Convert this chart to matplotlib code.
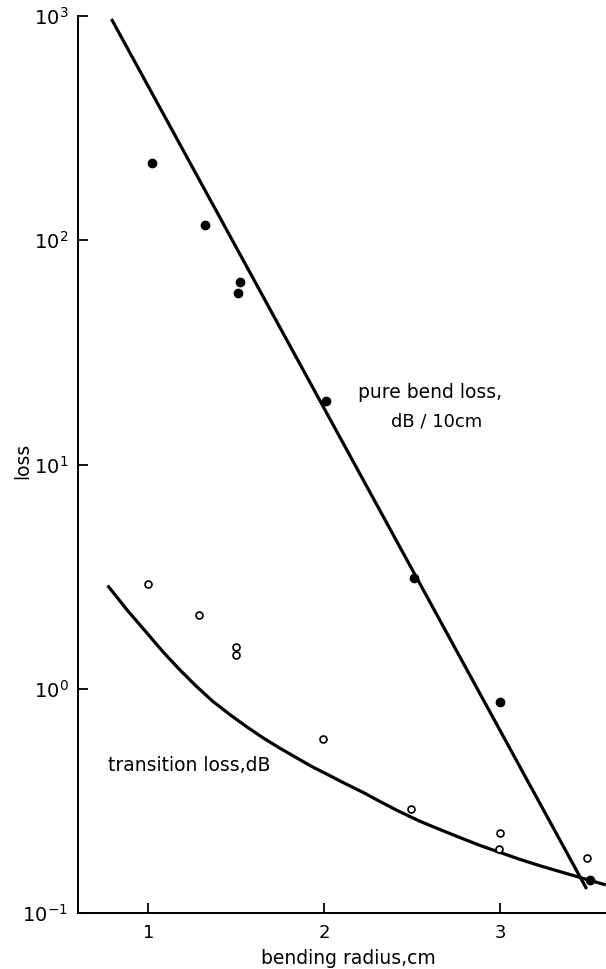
import matplotlib
matplotlib.use("Agg")
import matplotlib.pyplot as plt

bend_r = [1.02, 1.32, 1.52, 1.51, 2.01, 2.51, 3.0, 3.51]
bend_loss = [220, 117, 65, 58, 19.2, 3.12, 0.87, 0.14]

trans_r = [1.0, 1.29, 1.5, 1.5, 1.99, 2.49, 3.0, 2.99, 3.49]
trans_loss = [2.92, 2.13, 1.54, 1.41, 0.597, 0.291, 0.227, 0.193, 0.176]

# 손으로 그린 곡선 (그림에서 읽은 점)
bend_fit_r = [0.79, 3.49]
bend_fit_loss = [970, 0.128]

trans_fit_r = [0.774, 0.88, 0.987, 1.08, 1.176, 1.27, 1.365, 1.46, 1.555,
               1.65, 1.744, 1.84, 1.933, 2.03, 2.123, 2.22, 2.313, 2.42,
               2.54, 2.66, 2.77, 2.885, 3.0, 3.115, 3.23, 3.35, 3.466, 3.59]
trans_fit_loss = [2.85, 2.24, 1.79, 1.47, 1.22, 1.03, 0.88, 0.77, 0.68,
                  0.605, 0.545, 0.493, 0.448, 0.410, 0.376, 0.345, 0.315,
                  0.285, 0.257, 0.235, 0.217, 0.200, 0.186, 0.173, 0.162,
                  0.152, 0.143, 0.134]

x_ticks = [1, 2, 3]
y_ticks = [0.1, 1, 10, 100, 1000]
y_ticklabels = [r"$10^{-1}$", r"$10^{0}$", r"$10^{1}$", r"$10^{2}$", r"$10^{3}$"]

W, H = 606, 969
fig = plt.figure(figsize=(W / 100, H / 100), dpi=100)
ax = fig.add_axes([78 / W, 56 / H, (W - 78) / W, (913 - 16) / H])

ax.set_yscale("log")
ax.set_xlim(0.6, 3.6)
ax.set_ylim(0.1, 1000)

ax.plot(bend_fit_r, bend_fit_loss, color="black", linewidth=2.3,
        solid_capstyle="butt", clip_on=False)
ax.plot(trans_fit_r, trans_fit_loss, color="black", linewidth=2.3,
        solid_joinstyle="round", clip_on=False)

ax.plot(bend_r, bend_loss, "o", color="black", markersize=6, clip_on=False)
ax.plot(trans_r, trans_loss, "o", markerfacecolor="white",
        markeredgecolor="black", markeredgewidth=1.2, markersize=5,
        clip_on=False)

# 라벨
ax.text(2.19, 21.0, "pure bend loss,", fontsize=13.5, va="center", ha="left")
ax.text(2.64, 15.5, "dB / 10cm", fontsize=13, va="center", ha="center")
ax.text(0.773, 0.457, "transition loss,dB", fontsize=13.5, va="center",
        ha="left")

fig.text(23 / W, 1 - 461 / H, "loss", rotation=90, fontsize=13.5,
         ha="center", va="center")
fig.text(348 / W, 1 - 958 / H, "bending radius,cm", fontsize=13.5,
         ha="center", va="center")

# 축
ax.set_xticks(x_ticks)
ax.set_xticklabels([str(t) for t in x_ticks])
ax.set_yticks(y_ticks)
ax.set_yticklabels(y_ticklabels)
ax.yaxis.set_minor_locator(matplotlib.ticker.NullLocator())
ax.tick_params(direction="in", length=7, width=1.3, pad=7)
ax.tick_params(axis="y", labelsize=14)
ax.tick_params(axis="x", labelsize=13, pad=8)

for side in ["top", "right"]:
    ax.spines[side].set_visible(False)
for side in ["left", "bottom"]:
    ax.spines[side].set_linewidth(1.4)

fig.savefig("out.png", dpi=100)
plt.close(fig)
